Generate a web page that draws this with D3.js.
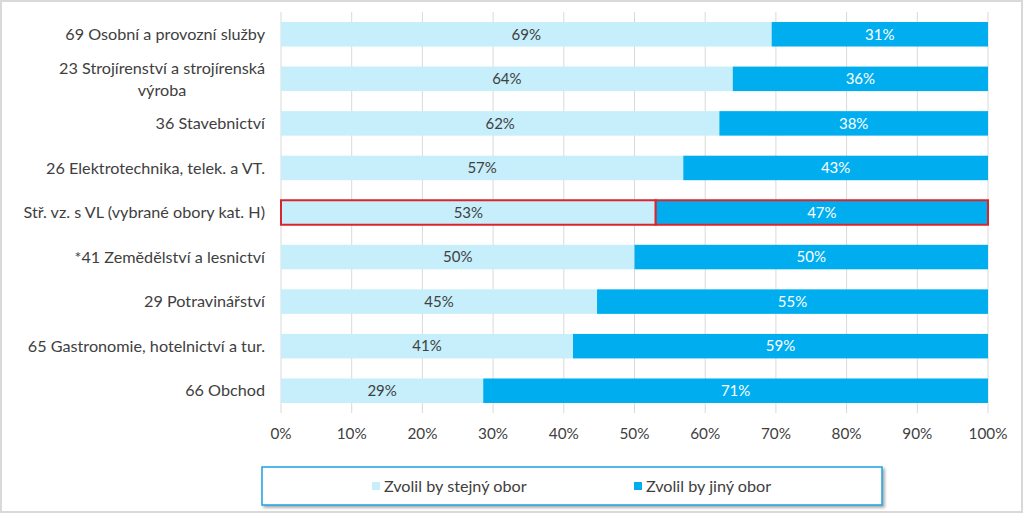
<!DOCTYPE html>
<html><head><meta charset="utf-8">
<script src="https://cdn.jsdelivr.net/npm/d3@7"></script>
<style>
body{margin:0;background:#fff;}
svg{display:block;font-family:Lato,"Open Sans",sans-serif;}
</style></head><body>
<svg id="c" width="1023" height="513"></svg>
<script>
const categories = [
  ["69 Osobní a provozní služby"],
  ["23 Strojírenství a strojírenská", "výroba"],
  ["36 Stavebnictví"],
  ["26 Elektrotechnika, telek. a VT."],
  ["Stř. vz. s VL (vybrané obory kat. H)"],
  ["*41 Zemědělství a lesnictví"],
  ["29 Potravinářství"],
  ["65 Gastronomie, hotelnictví a tur."],
  ["66 Obchod"]
];
const sameField = [69.4, 63.9, 62.0, 56.9, 53.0, 50.0, 44.7, 41.3, 28.6];
const otherField = [30.6, 36.1, 38.0, 43.1, 47.0, 50.0, 55.3, 58.7, 71.4];
const sameLabels = ["69%","64%","62%","57%","53%","50%","45%","41%","29%"];
const otherLabels = ["31%","36%","38%","43%","47%","50%","55%","59%","71%"];
const seriesNames = ["Zvolil by stejný obor", "Zvolil by jiný obor"];
const ticks = [0,10,20,30,40,50,60,70,80,90,100];
const highlightIndex = 4;

const colors = ["#C6EEFB", "#00AEEF"];
const svg = d3.select("#c");

// outer frame
svg.append("rect").attr("x",1).attr("y",1).attr("width",1021).attr("height",511)
  .attr("fill","#fff").attr("stroke","#d9d9d9").attr("stroke-width",2);

const x = d3.scaleLinear().domain([0,100]).range([281,988]);
const y = d3.scaleBand().domain(d3.range(categories.length)).range([12,413]).paddingInner(0.45).paddingOuter(0.225);

// gridlines
svg.append("g").selectAll("line").data(ticks).join("line")
  .attr("x1",d=>x(d)).attr("x2",d=>x(d)).attr("y1",12).attr("y2",413)
  .attr("stroke","#d9d9d9").attr("stroke-width",1);

// bars
const rows = svg.append("g").selectAll("g").data(categories).join("g");
rows.append("rect").attr("x",x(0)).attr("y",(d,i)=>y(i))
  .attr("width",(d,i)=>x(sameField[i])-x(0)).attr("height",y.bandwidth())
  .attr("fill",colors[0])
  .attr("stroke",(d,i)=>i===highlightIndex?"#D9262C":"none").attr("stroke-width",2);
rows.append("rect").attr("x",(d,i)=>x(sameField[i])).attr("y",(d,i)=>y(i))
  .attr("width",(d,i)=>x(sameField[i]+otherField[i])-x(sameField[i])).attr("height",y.bandwidth())
  .attr("fill",colors[1])
  .attr("stroke",(d,i)=>i===highlightIndex?"#D9262C":"none").attr("stroke-width",2);

rows.append("text").attr("x",(d,i)=>x(sameField[i]/2)).attr("y",(d,i)=>y(i)+y.bandwidth()/2)
  .attr("dy","0.35em").attr("text-anchor","middle").attr("font-size",15).attr("fill","#404040")
  .text((d,i)=>sameLabels[i]);
rows.append("text").attr("x",(d,i)=>x(sameField[i]+otherField[i]/2)).attr("y",(d,i)=>y(i)+y.bandwidth()/2)
  .attr("dy","0.35em").attr("text-anchor","middle").attr("font-size",15).attr("fill","#ffffff")
  .text((d,i)=>otherLabels[i]);

// category labels (multi-line labels centred on block)
rows.each(function(d,i){
  const g = d3.select(this);
  const cy = y(i)+y.bandwidth()/2;
  const lh = 22;
  const lines = d.map((line,k)=>g.append("text").attr("font-size",16.2).attr("fill","#404040")
     .attr("y", cy + (k-(d.length-1)/2)*lh).attr("dy","0.35em").text(line));
  const widths = lines.map(t=>t.node().getComputedTextLength());
  const maxW = Math.max(...widths);
  const center = 265 - maxW/2;
  lines.forEach(t=>t.attr("x", center).attr("text-anchor","middle"));
});

// x axis labels
svg.append("g").selectAll("text").data(ticks).join("text")
  .attr("x",d=>x(d)).attr("y",434).attr("dy","0.35em").attr("text-anchor","middle")
  .attr("font-size",15.3).attr("fill","#404040").text(d=>d+"%");

// legend
const defs = svg.append("defs");
const f = defs.append("filter").attr("id","sh").attr("x","-5%").attr("y","-20%").attr("width","110%").attr("height","150%");
f.append("feDropShadow").attr("dx",2).attr("dy",2).attr("stdDeviation",1.5).attr("flood-color","#000").attr("flood-opacity",0.35);
svg.append("rect").attr("x",262).attr("y",467).attr("width",620).attr("height",38)
  .attr("fill","#fff").attr("stroke","#1BA1E2").attr("stroke-width",1.5).attr("filter","url(#sh)");
const legX = [372, 634];
seriesNames.forEach((n,i)=>{
  svg.append("rect").attr("x",legX[i]).attr("y",482).attr("width",8).attr("height",8).attr("fill",colors[i]);
  svg.append("text").attr("x",legX[i]+12).attr("y",486).attr("dy","0.35em").attr("font-size",16.2)
    .attr("fill","#404040").text(n);
});
</script></body></html>
